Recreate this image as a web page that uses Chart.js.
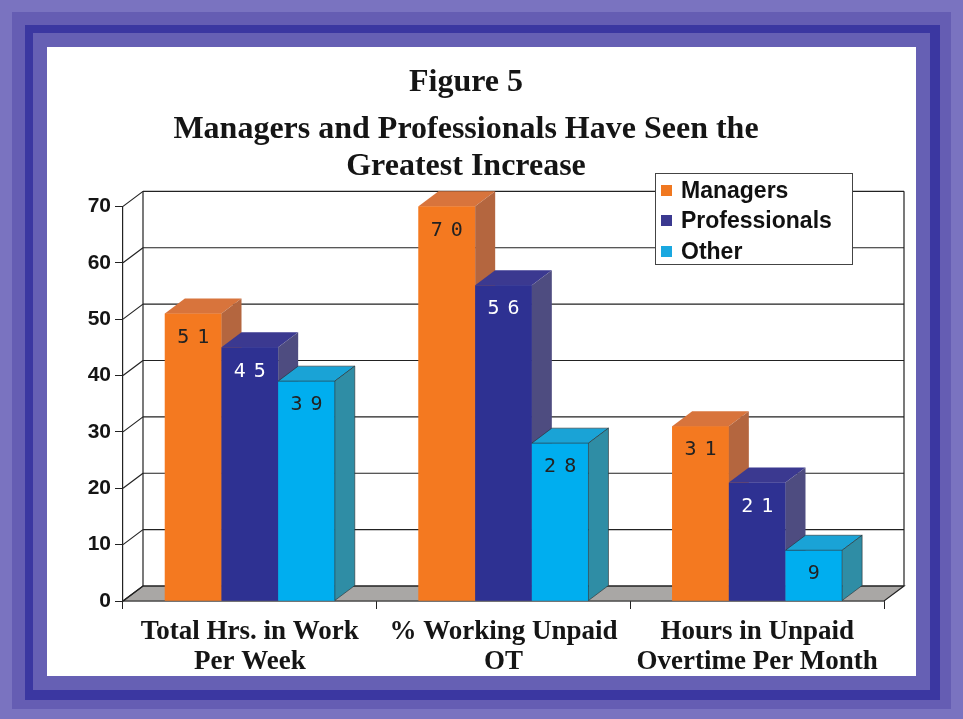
<!DOCTYPE html>
<html>
<head>
<meta charset="utf-8">
<script src="https://cdn.jsdelivr.net/npm/chart.js@4"></script>
<style>
  html, body { margin: 0; padding: 0; }
  body { width: 963px; height: 719px; position: relative; overflow: hidden; background: #7a73c0; }
  .band { position: absolute; }
  #b1 { left: 12px; top: 12px; right: 12px; bottom: 10px; background: #655db3; }
  #b2 { left: 25px; top: 25px; right: 23px; bottom: 19px; background: #3b37a1; }
  #b3 { left: 33px; top: 33px; right: 33px; bottom: 29px; background: #6660b4; }
  #white { left: 47px; top: 47px; width: 869px; height: 629px; background: #ffffff; }
  #c { position: absolute; left: 0; top: 0; }
  #legend { position: absolute; left: 655px; top: 173px; width: 196px; height: 90px;
            border: 1px solid #444; background: #fff; font-family: "Liberation Sans", Arial, sans-serif;
            font-weight: bold; font-size: 23px; color: #111; box-sizing: content-box; }
  .li { position: absolute; left: 5px; height: 30px; display: flex; align-items: center; }
  .mk { width: 11px; height: 11px; margin-right: 9px; }
</style>
</head>
<body>
<div class="band" id="b1"></div>
<div class="band" id="b2"></div>
<div class="band" id="b3"></div>
<div class="band" id="white"></div>
<canvas id="c" width="963" height="719"></canvas>
<div id="legend"></div>
<script>
const categories = [['Total Hrs. in Work', 'Per Week'], ['% Working Unpaid', 'OT'], ['Hours in Unpaid', 'Overtime Per Month']];
const seriesNames = ['Managers', 'Professionals', 'Other'];
const managers = [51, 70, 31];
const professionals = [45, 56, 21];
const other = [39, 28, 9];
const yTickValues = [0, 10, 20, 30, 40, 50, 60, 70];
const titleText = 'Figure 5';
const subtitleLines = ['Managers and Professionals Have Seen the', 'Greatest Increase'];

const frontColors = ['#F47920', '#2E3192', '#00AEEF'];
const topColors = ['#D8743C', '#3B3990', '#1AA3D6'];
const sideColors = ['#B4663F', '#4E4C80', '#2F8DA5'];
const labelColors = ['#222222', '#ffffff', '#222222'];
const legendColors = ['#F07820', '#3B3990', '#1AA8E0'];

const DX = 20, DY = -15;

const seriesValues = [managers, professionals, other];

// legend (HTML)
const legendEl = document.getElementById('legend');
seriesNames.forEach((name, i) => {
  const row = document.createElement('div');
  row.className = 'li';
  row.style.top = (1 + i * 30.5) + 'px';
  const mk = document.createElement('span');
  mk.className = 'mk';
  mk.style.background = legendColors[i];
  const tx = document.createElement('span');
  tx.textContent = name;
  row.appendChild(mk); row.appendChild(tx);
  legendEl.appendChild(row);
});

const box3d = {
  id: 'box3d',
  beforeDatasetsDraw(chart) {
    const ctx = chart.ctx;
    const { left, right, bottom } = chart.chartArea;
    const ys = chart.scales.y;
    ctx.save();
    // floor
    ctx.beginPath();
    ctx.moveTo(left, bottom);
    ctx.lineTo(right, bottom);
    ctx.lineTo(right + DX, bottom + DY);
    ctx.lineTo(left + DX, bottom + DY);
    ctx.closePath();
    ctx.fillStyle = '#A9A7A5';
    ctx.fill();
    ctx.strokeStyle = '#222';
    ctx.lineWidth = 1.2;
    ctx.stroke();
    // back grid + diagonals
    yTickValues.forEach(v => {
      const py = ys.getPixelForValue(v);
      ctx.beginPath();
      ctx.moveTo(left + DX, py + DY);
      ctx.lineTo(right + DX, py + DY);
      ctx.moveTo(left, py);
      ctx.lineTo(left + DX, py + DY);
      ctx.stroke();
    });
    const ptop = ys.getPixelForValue(yTickValues[yTickValues.length - 1]);
    ctx.beginPath();
    ctx.moveTo(left + DX, ptop + DY);
    ctx.lineTo(left + DX, bottom + DY);
    ctx.moveTo(right + DX, ptop + DY);
    ctx.lineTo(right + DX, bottom + DY);
    ctx.stroke();
    ctx.restore();
  },
  afterDatasetsDraw(chart) {
    const ctx = chart.ctx;
    ctx.save();
    // redraw the bars as 3D boxes in series order so that the overlaps are right
    const n = chart.data.labels.length;
    for (let i = 0; i < n; i++) {
      chart.data.datasets.forEach((ds, di) => {
        const el = chart.getDatasetMeta(di).data[i];
        const p = el.getProps(['x', 'y', 'base', 'width'], true);
        const l = p.x - p.width / 2, r = p.x + p.width / 2, t = p.y, b = p.base;
        ctx.lineWidth = 0.8;
        ctx.strokeStyle = 'rgba(40,40,40,0.7)';
        // front
        ctx.fillStyle = frontColors[di];
        ctx.fillRect(l, t, r - l, b - t);
        // top face
        ctx.beginPath();
        ctx.moveTo(l, t);
        ctx.lineTo(l + DX, t + DY);
        ctx.lineTo(r + DX, t + DY);
        ctx.lineTo(r, t);
        ctx.closePath();
        ctx.fillStyle = topColors[di];
        ctx.fill();
        if (di === 2) ctx.stroke();
        // side face
        ctx.beginPath();
        ctx.moveTo(r, t);
        ctx.lineTo(r + DX, t + DY);
        ctx.lineTo(r + DX, b + DY);
        ctx.lineTo(r, b);
        ctx.closePath();
        ctx.fillStyle = sideColors[di];
        ctx.fill();
        if (di === 2) ctx.stroke();
      });
    }
    // value labels
    ctx.font = '20px "DejaVu Sans Mono", monospace';
    ctx.textBaseline = 'middle';
    ctx.textAlign = 'left';
    const spacing = 8;
    chart.data.datasets.forEach((ds, di) => {
      const meta = chart.getDatasetMeta(di);
      ctx.fillStyle = labelColors[di];
      meta.data.forEach((el, i) => {
        const p = el.getProps(['x', 'y'], true);
        const chars = String(ds.data[i]).split('');
        const widths = chars.map(c => ctx.measureText(c).width);
        const total = widths.reduce((a, w) => a + w, 0) + spacing * (chars.length - 1);
        let x = p.x - total / 2;
        chars.forEach((c, k) => { ctx.fillText(c, x, p.y + 24); x += widths[k] + spacing; });
      });
    });
    ctx.restore();
  }
};

const serif = '"Liberation Serif", "Times New Roman", serif';
const sans = '"Liberation Sans", Arial, sans-serif';

new Chart(document.getElementById('c'), {
  type: 'bar',
  data: {
    labels: categories,
    datasets: seriesNames.map((name, i) => ({
      label: name,
      data: seriesValues[i],
      backgroundColor: frontColors[i],
      borderWidth: 0,
      categoryPercentage: 0.67,
      barPercentage: 1.0
    }))
  },
  options: {
    responsive: false,
    animation: false,
    devicePixelRatio: 1,
    layout: { padding: { left: 48, right: 79, top: 0, bottom: 0 } },
    plugins: {
      legend: { display: false },
      tooltip: { enabled: false },
      title: {
        display: true,
        text: titleText,
        color: '#151515',
        font: { family: serif, size: 32, weight: 'bold', lineHeight: 1.16 },
        padding: { top: 64, bottom: 10 }
      },
      subtitle: {
        display: true,
        text: subtitleLines,
        color: '#151515',
        font: { family: serif, size: 32, weight: 'bold', lineHeight: 1.16 },
        padding: { top: 0, bottom: 21 }
      }
    },
    scales: {
      x: {
        afterFit(s) { s.height = 118; },
        grid: { display: true, drawOnChartArea: false, drawTicks: true, tickLength: 8, color: '#222', offset: true },
        border: { display: true, color: '#222', width: 1.2 },
        ticks: {
          color: '#151515',
          padding: 8,
          maxRotation: 0,
          autoSkip: false,
          font: { family: serif, size: 27, weight: 'bold', lineHeight: 1.11 }
        }
      },
      y: {
        min: 0,
        max: 70,
        afterFit(s) { s.width = 75; },
        afterBuildTicks(s) { s.ticks = yTickValues.map(v => ({ value: v })); },
        grid: { display: true, drawOnChartArea: false, drawTicks: true, tickLength: 8, color: '#222' },
        border: { display: true, color: '#222', width: 1.2 },
        ticks: {
          color: '#151515',
          padding: 4,
          font: { family: sans, size: 21, weight: 'bold' }
        }
      }
    }
  },
  plugins: [box3d]
});
</script>
</body>
</html>
